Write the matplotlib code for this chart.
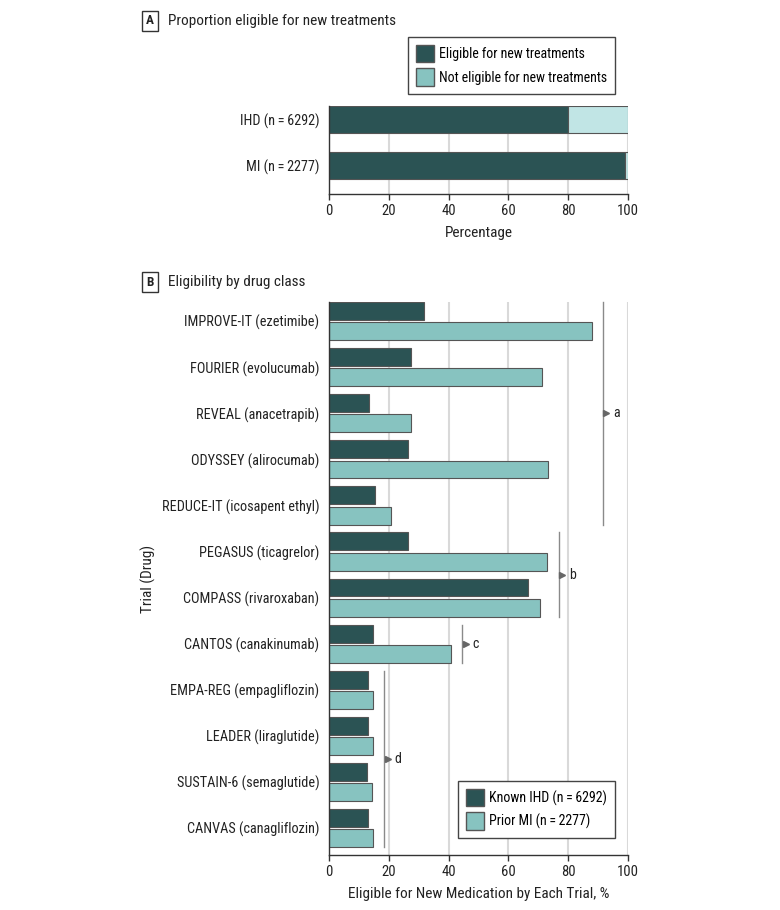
import numpy as np
import matplotlib
matplotlib.use("Agg")
import matplotlib.pyplot as plt
from matplotlib.patches import Patch

plt.rcParams['font.family'] = ['Roboto Condensed', 'Liberation Sans Narrow', 'Roboto', 'DejaVu Sans']

# Panel A data
groups_a = ["IHD (n\u2009=\u20096292)", "MI (n\u2009=\u20092277)"]
eligible = [80.0, 99.1]
not_eligible = [20.0, 0.9]

# Panel B data
trials = ["IMPROVE-IT (ezetimibe)", "FOURIER (evolucumab)", "REVEAL (anacetrapib)",
          "ODYSSEY (alirocumab)", "REDUCE-IT (icosapent ethyl)", "PEGASUS (ticagrelor)",
          "COMPASS (rivaroxaban)", "CANTOS (canakinumab)", "EMPA-REG (empagliflozin)",
          "LEADER (liraglutide)", "SUSTAIN-6 (semaglutide)", "CANVAS (canagliflozin)"]
known_ihd = [31.9, 27.5, 13.5, 26.5, 15.5, 26.5, 66.7, 14.8, 12.9, 12.9, 12.7, 13.2]
prior_mi = [88.1, 71.3, 27.4, 73.2, 20.7, 73.0, 70.7, 40.7, 14.6, 14.7, 14.5, 14.7]

# brackets: (first trial, last trial, x position, letter)
brackets = [(0, 4, 91.6, "a"), (5, 6, 76.8, "b"), (7, 7, 44.5, "c"), (8, 11, 18.4, "d")]

DARK = "#2b5354"
MID = "#87c3c0"
LIGHT = "#c1e5e5"
EDGE = "#555555"
GRID = "#d9d9d9"
TXT = "#222222"

W, H = 780, 910
fig = plt.figure(figsize=(W / 100, H / 100), dpi=100)


def px_axes(l, t, r, b):
    return fig.add_axes([l / W, 1 - b / H, (r - l) / W, (b - t) / H])


def style_axes(ax):
    for s in ["top", "right"]:
        ax.spines[s].set_visible(False)
    for s in ["left", "bottom"]:
        ax.spines[s].set_color("#333333")
        ax.spines[s].set_linewidth(1)
    ax.set_xlim(0, 100)
    ax.set_xticks([0, 20, 40, 60, 80, 100])
    ax.tick_params(axis="x", length=4, width=1, color="#333333", labelsize=10.5, labelcolor=TXT, pad=3)
    ax.tick_params(axis="y", length=0, labelsize=10.3, labelcolor=TXT, pad=7)
    ax.grid(axis="x", color=GRID, linewidth=1.5)
    ax.set_axisbelow(True)


def legend(handles, top_px):
    fig.legend(handles=handles, loc="upper right", bbox_to_anchor=(615 / W, 1 - top_px / H),
               borderaxespad=0, frameon=True, fancybox=False, edgecolor="#444444",
               fontsize=10, handlelength=1.3, handleheight=1.6, handletextpad=0.4,
               labelspacing=0.4, borderpad=0.55, framealpha=1)


# ---- Panel A ----
axa = px_axes(329, 106, 628, 194)
ya = np.arange(len(groups_a))[::-1]
axa.barh(ya, eligible, height=0.6, color=DARK, edgecolor=EDGE, linewidth=0.8)
axa.barh(ya, not_eligible, left=eligible, height=0.6, color=LIGHT, edgecolor=EDGE, linewidth=0.8)
axa.set_yticks(ya)
axa.set_yticklabels(groups_a)
axa.set_ylim(-0.63, 1.3)
style_axes(axa)
axa.set_xlabel("Percentage", fontsize=11, color=TXT, labelpad=6)

legend([Patch(facecolor=DARK, edgecolor=EDGE, label="Eligible for new treatments"),
        Patch(facecolor=MID, edgecolor=EDGE, label="Not eligible for new treatments")], 37)

# ---- Panel B ----
axb = px_axes(329, 302, 628, 855)
yb = np.arange(len(trials))
off, bh = 0.22, 0.39
axb.barh(yb - off, known_ihd, height=bh, color=DARK, edgecolor=EDGE, linewidth=0.8)
axb.barh(yb + off, prior_mi, height=bh, color=MID, edgecolor=EDGE, linewidth=0.8)
axb.set_yticks(yb)
axb.set_yticklabels(trials)
axb.set_ylim(11.585, -0.415)
style_axes(axb)
axb.set_xlabel("Eligible for New Medication by Each Trial, %", fontsize=11, color=TXT, labelpad=6)
axb.set_ylabel("Trial (Drug)", fontsize=11, color=TXT, labelpad=4)

for first, last, xb, letter in brackets:
    y0 = first - off - bh / 2
    y1 = last + off + bh / 2
    axb.plot([xb, xb], [y0, y1], color="#8a8a8a", linewidth=1, clip_on=False)
    ym = (y0 + y1) / 2
    axb.plot([xb + 1.2], [ym], marker=">", markersize=5, color="#666666", clip_on=False)
    axb.text(xb + 4.6, ym, letter, fontsize=10, color=TXT, ha="center", va="center")

legend([Patch(facecolor=DARK, edgecolor=EDGE, label="Known IHD (n\u2009=\u20096292)"),
        Patch(facecolor=MID, edgecolor=EDGE, label="Prior MI (n\u2009=\u20092277)")], 781)

# panel headings
for letter, ypx, title in [("A", 21, "Proportion eligible for new treatments"),
                           ("B", 282, "Eligibility by drug class")]:
    fig.text(150 / W, 1 - ypx / H, letter, fontsize=9.5, fontweight="bold", color=TXT,
             ha="center", va="center",
             bbox=dict(boxstyle="square,pad=0.3", facecolor="white", edgecolor="#333333", linewidth=1))
    fig.text(168 / W, 1 - ypx / H, title, fontsize=11, color=TXT, ha="left", va="center")

fig.savefig("out.png", dpi=100)
